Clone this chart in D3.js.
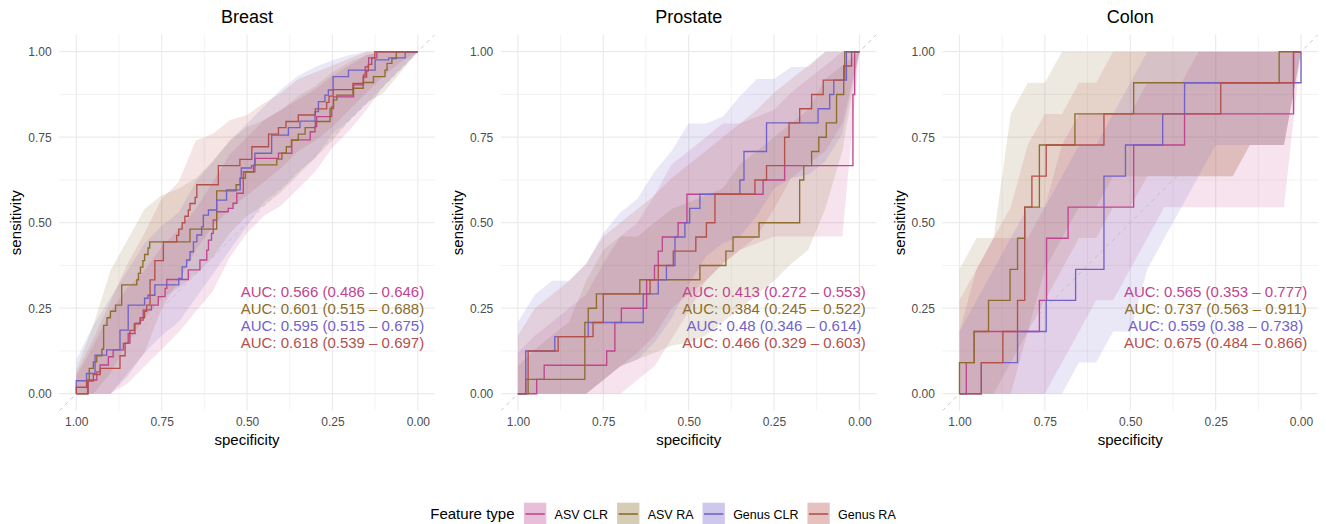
<!DOCTYPE html>
<html>
<head>
<meta charset="utf-8">
<script src="https://cdn.jsdelivr.net/npm/d3@7"></script>
<style>
  body { margin: 0; background: #fff; }
  text { font-family: "Liberation Sans", Arial, Helvetica, sans-serif; }
</style>
</head>
<body>
<svg id="chart" width="1326" height="524"></svg>
<script>
var panelNames = ["Breast", "Prostate", "Colon"];
var featureTypes = ["ASV CLR", "ASV RA", "Genus CLR", "Genus RA"];
var featureColors = ["#C1448F", "#8C6D2C", "#7262C8", "#B4504A"];
var tickValues = [1, 0.75, 0.5, 0.25, 0];
var minorValues = [0.875, 0.625, 0.375, 0.125];

// specificities at which the confidence bands were computed
var bandSpec = [1, 0.95, 0.9, 0.85, 0.8, 0.75, 0.7, 0.65, 0.6, 0.55, 0.5, 0.45, 0.4, 0.35, 0.3, 0.25, 0.2, 0.15, 0.1, 0.05, 0];

// ROC steps: [specificity, sensitivity reached at that specificity]
var breastAsvClr = [[1,0],[0.965,0.04],[0.94,0.064],[0.93,0.084],[0.906,0.108],[0.892,0.128],[0.862,0.147],[0.848,0.176],[0.828,0.206],[0.813,0.215],[0.804,0.245],[0.78,0.259],[0.76,0.284],[0.74,0.308],[0.735,0.334],[0.672,0.362],[0.638,0.391],[0.618,0.42],[0.613,0.449],[0.604,0.469],[0.599,0.508],[0.589,0.532],[0.555,0.542],[0.541,0.557],[0.53,0.586],[0.511,0.649],[0.477,0.688],[0.408,0.703],[0.369,0.742],[0.315,0.766],[0.301,0.781],[0.296,0.81],[0.252,0.839],[0.247,0.868],[0.188,0.903],[0.159,0.932],[0.154,0.956],[0.144,0.982],[0.12,1],[0,1]];
var breastAsvRa = [[1,0],[0.967,0.039],[0.962,0.074],[0.95,0.093],[0.94,0.111],[0.925,0.13],[0.92,0.2],[0.91,0.222],[0.90,0.241],[0.885,0.259],[0.867,0.318],[0.823,0.333],[0.818,0.352],[0.812,0.37],[0.805,0.389],[0.80,0.407],[0.79,0.426],[0.785,0.444],[0.667,0.481],[0.589,0.593],[0.532,0.611],[0.52,0.63],[0.505,0.648],[0.481,0.669],[0.413,0.686],[0.398,0.704],[0.385,0.722],[0.37,0.741],[0.35,0.759],[0.33,0.778],[0.30,0.796],[0.257,0.834],[0.247,0.859],[0.237,0.873],[0.19,0.893],[0.16,0.91],[0.13,0.927],[0.096,0.946],[0.09,0.966],[0.076,0.98],[0.063,1],[0,1]];
var breastGenusClr = [[1,0],[1,0.038],[0.97,0.059],[0.945,0.113],[0.911,0.128],[0.872,0.186],[0.848,0.259],[0.80,0.279],[0.79,0.288],[0.77,0.318],[0.70,0.337],[0.69,0.371],[0.677,0.391],[0.667,0.415],[0.657,0.444],[0.647,0.464],[0.633,0.488],[0.628,0.522],[0.613,0.537],[0.589,0.566],[0.56,0.596],[0.52,0.63],[0.517,0.66],[0.487,0.667],[0.477,0.703],[0.428,0.756],[0.379,0.778],[0.345,0.797],[0.301,0.825],[0.291,0.854],[0.272,0.873],[0.262,0.888],[0.248,0.927],[0.203,0.946],[0.125,0.976],[0.085,0.982],[0.037,1],[0,1]];
var breastGenusRa = [[1,0],[1,0.019],[0.97,0.037],[0.95,0.056],[0.93,0.074],[0.872,0.093],[0.872,0.111],[0.857,0.148],[0.843,0.185],[0.83,0.204],[0.813,0.222],[0.80,0.241],[0.794,0.259],[0.784,0.333],[0.77,0.389],[0.745,0.444],[0.706,0.463],[0.70,0.481],[0.69,0.5],[0.682,0.519],[0.672,0.537],[0.667,0.556],[0.652,0.574],[0.647,0.611],[0.584,0.63],[0.584,0.667],[0.521,0.685],[0.486,0.704],[0.486,0.722],[0.437,0.741],[0.437,0.759],[0.408,0.778],[0.386,0.796],[0.35,0.815],[0.30,0.833],[0.267,0.852],[0.26,0.87],[0.248,0.889],[0.19,0.907],[0.16,0.926],[0.15,0.944],[0.145,0.963],[0.135,0.981],[0.126,1],[0,1]];

var prostateAsvClr = [[1,0],[0.945,0.0417],[0.923,0.0833],[0.74,0.125],[0.716,0.2083],[0.697,0.25],[0.623,0.3333],[0.60,0.375],[0.589,0.4167],[0.577,0.4583],[0.531,0.5],[0.505,0.5833],[0.282,0.625],[0.219,0.6667],[0.019,0.875],[0.014,1],[0,1]];
var prostateAsvRa = [[1,0],[0.970,0.0417],[0.804,0.2083],[0.794,0.25],[0.77,0.2917],[0.643,0.3333],[0.467,0.375],[0.391,0.4167],[0.37,0.4583],[0.294,0.5],[0.175,0.625],[0.163,0.6667],[0.14,0.7083],[0.119,0.75],[0.097,0.7917],[0.067,0.875],[0.046,0.9167],[0.043,1],[0,1]];
var prostateGenusClr = [[1,0],[0.977,0.125],[0.892,0.1667],[0.794,0.2083],[0.633,0.2917],[0.589,0.3333],[0.565,0.375],[0.540,0.4583],[0.511,0.5],[0.497,0.5417],[0.467,0.5833],[0.350,0.625],[0.338,0.7083],[0.272,0.7917],[0.121,0.8333],[0.087,0.875],[0.075,0.9167],[0.038,1],[0,1]];
var prostateGenusRa = [[1,0],[0.977,0.0417],[0.970,0.125],[0.882,0.1667],[0.78,0.2083],[0.75,0.2917],[0.613,0.3333],[0.589,0.375],[0.545,0.4167],[0.479,0.4583],[0.448,0.5],[0.423,0.5833],[0.306,0.625],[0.272,0.6667],[0.219,0.75],[0.206,0.7917],[0.175,0.8333],[0.14,0.875],[0.106,0.9167],[0.046,0.9583],[0.023,1],[0,1]];

var colonAsvClr = [[1,0],[0.98,0.0909],[0.957,0.1818],[0.766,0.2727],[0.745,0.4545],[0.682,0.5455],[0.49,0.7273],[0.341,0.8182],[0.022,1],[0,1]];
var colonAsvRa = [[1,0],[1,0.0909],[0.957,0.1818],[0.915,0.2727],[0.852,0.3636],[0.830,0.4545],[0.809,0.5455],[0.766,0.7273],[0.662,0.8182],[0.49,0.9091],[0.064,1],[0,1]];
var colonGenusClr = [[1,0],[0.936,0.0909],[0.830,0.1818],[0.746,0.2727],[0.660,0.3636],[0.577,0.6364],[0.514,0.7273],[0.405,0.8182],[0.341,0.9091],[0,1]];
var colonGenusRa = [[1,0],[0.936,0.0909],[0.873,0.1818],[0.830,0.2727],[0.809,0.5455],[0.788,0.6364],[0.746,0.7273],[0.577,0.8182],[0.235,0.9091],[0.022,1],[0,1]];

// confidence bands of sensitivity (lower / upper) at bandSpec
var breastLoAsvClr = [0,0,0,0.03,0.08,0.13,0.18,0.24,0.30,0.40,0.47,0.52,0.55,0.60,0.65,0.72,0.77,0.83,0.90,0.95,1];
var breastHiAsvClr = [0.05,0.14,0.24,0.31,0.36,0.43,0.48,0.54,0.62,0.70,0.75,0.80,0.83,0.86,0.89,0.93,0.96,0.99,1,1,1];
var breastLoAsvRa = [0,0,0.06,0.15,0.22,0.28,0.31,0.35,0.40,0.47,0.52,0.55,0.59,0.64,0.69,0.74,0.80,0.85,0.88,0.94,1];
var breastHiAsvRa = [0.07,0.20,0.36,0.45,0.54,0.58,0.60,0.63,0.68,0.74,0.78,0.80,0.83,0.87,0.90,0.94,0.97,0.99,1,1,1];
var breastLoGenusClr = [0,0,0,0.05,0.12,0.17,0.21,0.28,0.35,0.42,0.49,0.56,0.60,0.65,0.69,0.76,0.80,0.85,0.90,0.95,1];
var breastHiGenusClr = [0.10,0.20,0.28,0.36,0.44,0.49,0.53,0.62,0.68,0.74,0.79,0.84,0.89,0.93,0.955,0.975,0.99,1,1,1,1];
var breastLoGenusRa = [0,0,0,0.06,0.12,0.25,0.33,0.42,0.49,0.54,0.58,0.62,0.66,0.71,0.74,0.78,0.83,0.88,0.93,0.97,1];
var breastHiGenusRa = [0.06,0.16,0.27,0.38,0.47,0.57,0.62,0.74,0.76,0.80,0.815,0.85,0.88,0.92,0.94,0.96,0.98,1,1,1,1];

var prostateLoAsvClr = [0,0,0,0,0,0,0,0.04,0.08,0.16,0.24,0.33,0.38,0.42,0.44,0.46,0.46,0.46,0.46,0.46,1];
var prostateHiAsvClr = [0.12,0.17,0.21,0.25,0.29,0.38,0.46,0.50,0.58,0.67,0.71,0.75,0.79,0.79,0.81,0.83,0.88,0.92,0.96,1,1];
var prostateLoAsvRa = [0,0,0,0,0,0.04,0.08,0.10,0.12,0.14,0.15,0.17,0.21,0.25,0.29,0.33,0.38,0.42,0.54,0.71,1];
var prostateHiAsvRa = [0.08,0.13,0.17,0.21,0.33,0.42,0.46,0.46,0.50,0.54,0.56,0.58,0.60,0.67,0.71,0.75,0.79,0.83,0.92,0.96,1];
var prostateLoGenusClr = [0,0,0,0,0,0.04,0.08,0.10,0.15,0.22,0.32,0.40,0.44,0.46,0.52,0.60,0.63,0.64,0.68,0.76,1];
var prostateHiGenusClr = [0.21,0.29,0.33,0.33,0.38,0.47,0.53,0.57,0.65,0.71,0.79,0.79,0.81,0.87,0.92,0.92,0.955,0.955,1,1,1];
var prostateLoGenusRa = [0,0,0,0,0,0.04,0.08,0.12,0.17,0.25,0.29,0.33,0.38,0.42,0.46,0.54,0.63,0.67,0.71,0.79,1];
var prostateHiGenusRa = [0.17,0.25,0.29,0.33,0.38,0.46,0.50,0.54,0.58,0.63,0.67,0.71,0.75,0.79,0.83,0.88,0.92,0.96,1,1,1];

var colonLoAsvClr = [0,0,0,0,0,0,0.091,0.182,0.273,0.273,0.364,0.455,0.545,0.545,0.545,0.545,0.545,0.545,0.545,0.545,1];
var colonHiAsvClr = [0.182,0.364,0.455,0.455,0.455,0.545,0.727,0.818,0.818,0.818,0.818,0.909,0.909,0.909,1,1,1,1,1,1,1];
var colonLoAsvRa = [0,0,0,0.091,0.182,0.364,0.455,0.545,0.545,0.636,0.636,0.636,0.636,0.636,0.636,0.636,0.636,0.727,0.727,0.727,1];
var colonHiAsvRa = [0.364,0.455,0.455,0.818,0.909,0.909,1,1,1,1,1,1,1,1,1,1,1,1,1,1,1];
var colonLoGenusClr = [0,0,0,0,0,0,0,0.091,0.091,0.182,0.182,0.364,0.455,0.545,0.636,0.727,0.727,0.727,0.727,0.727,1];
var colonHiGenusClr = [0.182,0.273,0.364,0.455,0.545,0.545,0.636,0.727,0.727,0.818,0.909,1,1,1,1,1,1,1,1,1,1];
var colonLoGenusRa = [0,0,0,0,0.182,0.273,0.364,0.455,0.455,0.545,0.545,0.636,0.636,0.636,0.636,0.636,0.636,0.727,0.727,0.727,1];
var colonHiGenusRa = [0.273,0.364,0.455,0.545,0.727,0.818,0.818,0.909,0.909,1,1,1,1,1,1,1,1,1,1,1,1];

var breastAUC = ["AUC: 0.566 (0.486 \u2013 0.646)", "AUC: 0.601 (0.515 \u2013 0.688)", "AUC: 0.595 (0.515 \u2013 0.675)", "AUC: 0.618 (0.539 \u2013 0.697)"];
var prostateAUC = ["AUC: 0.413 (0.272 \u2013 0.553)", "AUC: 0.384 (0.245 \u2013 0.522)", "AUC: 0.48 (0.346 \u2013 0.614)", "AUC: 0.466 (0.329 \u2013 0.603)"];
var colonAUC = ["AUC: 0.565 (0.353 \u2013 0.777)", "AUC: 0.737 (0.563 \u2013 0.911)", "AUC: 0.559 (0.38 \u2013 0.738)", "AUC: 0.675 (0.484 \u2013 0.866)"];
var aucLabelY = [0.3, 0.25, 0.2, 0.15];

var panels = [
  { name: "Breast", curves: [breastAsvClr, breastAsvRa, breastGenusClr, breastGenusRa],
    lo: [breastLoAsvClr, breastLoAsvRa, breastLoGenusClr, breastLoGenusRa],
    hi: [breastHiAsvClr, breastHiAsvRa, breastHiGenusClr, breastHiGenusRa], auc: breastAUC },
  { name: "Prostate", curves: [prostateAsvClr, prostateAsvRa, prostateGenusClr, prostateGenusRa],
    lo: [prostateLoAsvClr, prostateLoAsvRa, prostateLoGenusClr, prostateLoGenusRa],
    hi: [prostateHiAsvClr, prostateHiAsvRa, prostateHiGenusClr, prostateHiGenusRa], auc: prostateAUC },
  { name: "Colon", curves: [colonAsvClr, colonAsvRa, colonGenusClr, colonGenusRa],
    lo: [colonLoAsvClr, colonLoAsvRa, colonLoGenusClr, colonLoGenusRa],
    hi: [colonHiAsvClr, colonHiAsvRa, colonHiGenusClr, colonHiGenusRa], auc: colonAUC }
];

var svg = d3.select("#chart");

var panelW = 375.7, panelH = 376.2, panelTop = 34.6,
    firstLeft = 59.2, panelStep = 441.6;
var bandAlpha = 0.15;

panels.forEach(function(p, i) {
  var left = firstLeft + i * panelStep;
  var x = d3.scaleLinear().domain([1.05, -0.05]).range([left, left + panelW]);
  var y = d3.scaleLinear().domain([-0.05, 1.05]).range([panelTop + panelH, panelTop]);

  var g = svg.append("g");

  svg.append("clipPath").attr("id", "clip" + i)
    .append("rect")
      .attr("x", left).attr("y", panelTop)
      .attr("width", panelW).attr("height", panelH);

  // grid
  var grid = g.append("g");
  minorValues.forEach(function(v) {
    grid.append("line").attr("x1", x(v)).attr("x2", x(v)).attr("y1", panelTop).attr("y2", panelTop + panelH)
      .attr("stroke", "#EBEBEB").attr("stroke-width", 0.6);
    grid.append("line").attr("y1", y(v)).attr("y2", y(v)).attr("x1", left).attr("x2", left + panelW)
      .attr("stroke", "#EBEBEB").attr("stroke-width", 0.6);
  });
  tickValues.forEach(function(v) {
    grid.append("line").attr("x1", x(v)).attr("x2", x(v)).attr("y1", panelTop).attr("y2", panelTop + panelH)
      .attr("stroke", "#EBEBEB").attr("stroke-width", 1.2);
    grid.append("line").attr("y1", y(v)).attr("y2", y(v)).attr("x1", left).attr("x2", left + panelW)
      .attr("stroke", "#EBEBEB").attr("stroke-width", 1.2);
  });

  var plot = g.append("g").attr("clip-path", "url(#clip" + i + ")");

  // confidence bands
  var area = d3.area()
    .x(function(d) { return x(d[0]); })
    .y0(function(d) { return y(d[1]); })
    .y1(function(d) { return y(d[2]); });

  featureTypes.forEach(function(f, k) {
    var rows = bandSpec.map(function(s, j) { return [s, p.lo[k][j], p.hi[k][j]]; });
    plot.append("path")
      .attr("d", area(rows))
      .attr("fill", featureColors[k])
      .attr("fill-opacity", bandAlpha);
  });

  // chance line (sensitivity = 1 - specificity)
  plot.append("line")
    .attr("x1", x(1.05)).attr("y1", y(-0.05))
    .attr("x2", x(-0.05)).attr("y2", y(1.05))
    .attr("stroke", "#BDBDBD").attr("stroke-width", 0.8)
    .attr("stroke-dasharray", "4,4");

  // ROC curves
  var line = d3.line()
    .curve(d3.curveStepAfter)
    .x(function(d) { return x(d[0]); })
    .y(function(d) { return y(d[1]); });

  featureTypes.forEach(function(f, k) {
    plot.append("path")
      .attr("d", line(p.curves[k]))
      .attr("fill", "none")
      .attr("stroke", featureColors[k])
      .attr("stroke-width", 1.35);
  });

  // AUC labels
  p.auc.forEach(function(t, k) {
    g.append("text")
      .attr("x", x(0.25)).attr("y", y(aucLabelY[k]))
      .attr("dy", "0.36em")
      .attr("text-anchor", "middle")
      .attr("font-size", 15)
      .attr("fill", featureColors[k])
      .text(t);
  });

  // axes
  var xAxis = g.append("g")
    .attr("transform", "translate(0," + (panelTop + panelH) + ")")
    .call(d3.axisBottom(x).tickValues(tickValues).tickFormat(d3.format(".2f")).tickSize(0).tickPadding(7));
  var yAxis = g.append("g")
    .attr("transform", "translate(" + left + ",0)")
    .call(d3.axisLeft(y).tickValues(tickValues).tickFormat(d3.format(".2f")).tickSize(0).tickPadding(7.5));
  [xAxis, yAxis].forEach(function(a) {
    a.select(".domain").remove();
    a.selectAll("text").attr("font-size", 12).attr("fill", "#4D4D4D")
      .style("font-family", "'Liberation Sans', Arial, sans-serif");
  });

  g.append("text")
    .attr("x", left + panelW / 2).attr("y", 440)
    .attr("dy", "0.36em").attr("text-anchor", "middle")
    .attr("font-size", 15).attr("fill", "#000")
    .text("specificity");

  g.append("text")
    .attr("transform", "translate(" + (left - 43.3) + "," + (panelTop + panelH / 2) + ") rotate(-90)")
    .attr("dy", "0.36em").attr("text-anchor", "middle")
    .attr("font-size", 15).attr("fill", "#000")
    .text("sensitivity");

  g.append("text")
    .attr("x", left + panelW / 2).attr("y", 17)
    .attr("dy", "0.36em").attr("text-anchor", "middle")
    .attr("font-size", 18).attr("fill", "#000")
    .text(p.name);
});

// legend
var legend = svg.append("g");
var legendY = 514, keySize = 22.3;
var title = legend.append("text")
  .attr("x", 0).attr("y", legendY).attr("dy", "0.36em")
  .attr("font-size", 15).attr("fill", "#000")
  .text("Feature type");
var cursor = title.node().getComputedTextLength() + 9.5;
featureTypes.forEach(function(f, k) {
  legend.append("rect")
    .attr("x", cursor).attr("y", legendY - 11.3)
    .attr("width", keySize).attr("height", keySize)
    .attr("fill", featureColors[k]).attr("fill-opacity", 0.35);
  legend.append("line")
    .attr("x1", cursor + 1.5).attr("x2", cursor + keySize - 1.5)
    .attr("y1", legendY).attr("y2", legendY)
    .attr("stroke", featureColors[k]).attr("stroke-width", 1.6);
  var lab = legend.append("text")
    .attr("x", cursor + keySize + 8.3).attr("y", legendY).attr("dy", "0.36em")
    .attr("font-size", 12.5).attr("fill", "#000")
    .text(f);
  cursor += keySize + 8.3 + lab.node().getComputedTextLength() + (k < 3 ? 9 : 0);
});
legend.attr("transform", "translate(" + (1326 / 2 - cursor / 2) + ",0)");
</script>
</body>
</html>
